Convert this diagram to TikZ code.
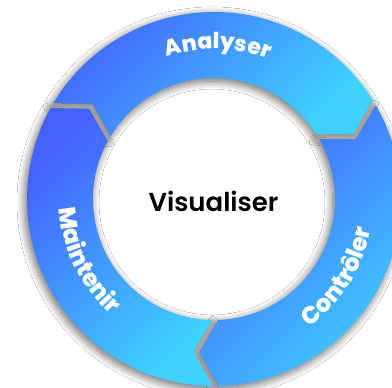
\documentclass[tikz,border=0pt]{standalone}
\usepackage{fontspec}
\setmainfont{Poppins}
\newfontfamily\centrefont{Poppins SemiBold}
\newfontfamily\ringfont{Poppins ExtraBold}
\usepackage{tikz}
\usetikzlibrary{decorations.text,shadows.blur}

\definecolor{ringdark}{HTML}{4462FF}
\definecolor{ringlight}{HTML}{3FD2FF}

% one ring piece, clockwise from gap #1 to gap #2
\newcommand{\ringpiece}[2]{(#1-0.9:187) arc[start angle=#1-0.9, end angle=#2+0.9, radius=187]
  -- (#2-7+1.1:154) -- (#2+1.4:121) arc[start angle=#2+1.4, end angle=#1-1.4, radius=121]
  -- (#1-7-1.1:154) -- cycle}

\tikzset{
  piece/.style={top color=ringdark, bottom color=ringlight, shading angle=45},
  pieceshadow/.style={blur shadow={shadow xshift=-2pt, shadow yshift=-3pt, shadow blur radius=8pt,
    shadow blur steps=12, shadow opacity=60}},
  ringtext/.style 2 args={decorate, decoration={text along path, text align=center, text color=white,
    text={|\fontsize{#1}{#1}\selectfont\ringfont|#2}}}
}

\begin{document}
\begin{tikzpicture}[x=1pt,y=1pt]
\fill[white] (0,0) rectangle (392,388);
\useasboundingbox (0,0) rectangle (392,388);
\begin{scope}[shift={(214,189)}]
% shadows first
\path[pieceshadow] \ringpiece{150}{31};
\path[pieceshadow] \ringpiece{31}{-89.5};
\path[pieceshadow] \ringpiece{270.5}{150};
% pieces
\shade[piece] \ringpiece{150}{31};
\shade[piece] \ringpiece{31}{-89.5};
\shade[piece] \ringpiece{270.5}{150};
% labels
\path[ringtext={22}{Analyser}] (124:150) arc[start angle=124, end angle=53, radius=150];
\path[ringtext={24}{Contrôler}] (-68:160) arc[start angle=-68, end angle=4, radius=160];
\path[ringtext={24}{Maintenir}] (169:155) arc[start angle=169, end angle=243, radius=155];
\node[anchor=base] (visu) at (-0.5,-13) {\fontsize{26}{26}\selectfont\centrefont Visualiser};
\end{scope}
\end{tikzpicture}
\end{document}
